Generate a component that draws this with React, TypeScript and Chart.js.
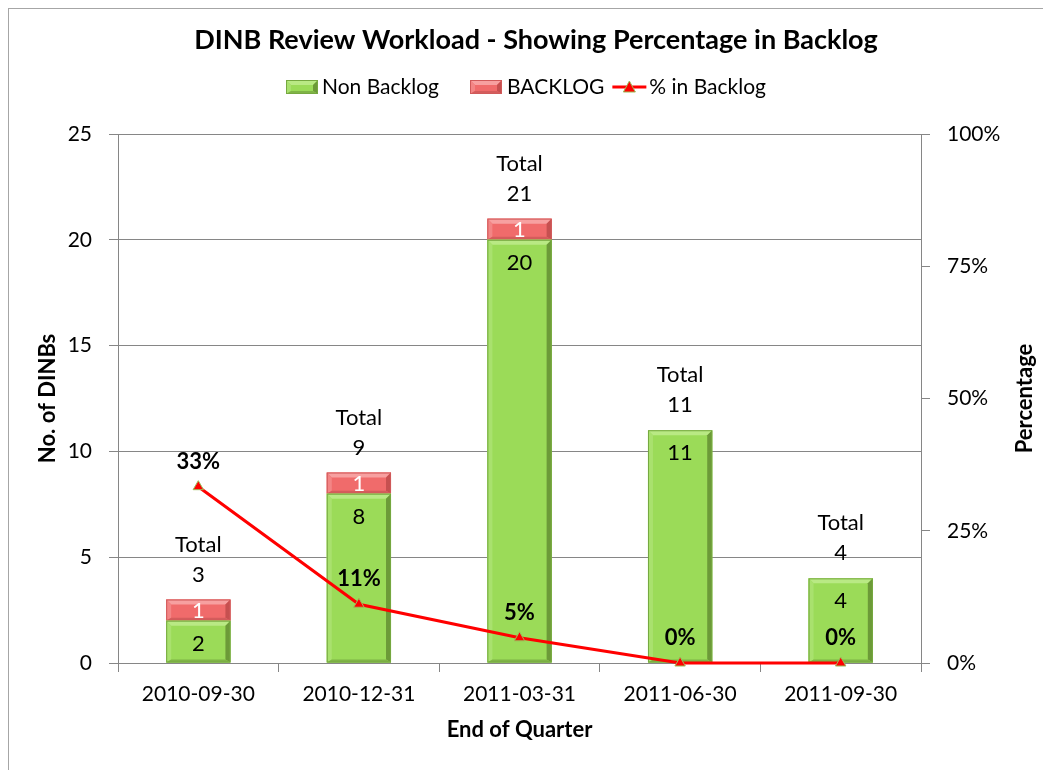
import React, { useEffect, useRef } from 'react';
import { Chart, registerables } from 'chart.js';

Chart.register(...registerables);

const categories = ['2010-09-30', '2010-12-31', '2011-03-31', '2011-06-30', '2011-09-30'];
const nonBacklog = [2, 8, 20, 11, 4];
const backlog = [1, 1, 1, 0, 0];
const totals = [3, 9, 21, 11, 4];
const pctBacklog = [33.33, 11.11, 4.76, 0, 0];
const pctLabels = ['33%', '11%', '5%', '0%', '0%'];
const seriesNames = ['Non Backlog', 'BACKLOG', '% in Backlog'];
const titleText = 'DINB Review Workload - Showing Percentage in Backlog';
const xTitle = 'End of Quarter';
const yTitle = 'No. of DINBs';
const y1Title = 'Percentage';

const FONT = 'Lato';
const AXIS = '#868686';

const GREEN = { base: '#9bdb58', light: '#b9e984', lightSide: '#a9e16e', dark: '#6c9a38', darker: '#7fb446', edge: '#76a840' };
const RED = { base: '#f06b6b', light: '#f7a0a0', lightSide: '#f38585', dark: '#c65050', darker: '#d45c5c', edge: '#d05a5a' };

function drawBevelRect(ctx: CanvasRenderingContext2D, L: number, T: number, R: number, B: number, c: any) {
  const h = B - T;
  if (h < 1) return;
  const b = Math.min(5, h / 2);
  const bb = Math.min(3, h / 2);
  ctx.save();
  ctx.fillStyle = c.base;
  ctx.fillRect(L, T, R - L, h);
  const poly = (pts: number[][], col: string) => {
    ctx.beginPath();
    ctx.moveTo(pts[0][0], pts[0][1]);
    for (let i = 1; i < pts.length; i++) ctx.lineTo(pts[i][0], pts[i][1]);
    ctx.closePath();
    ctx.fillStyle = col;
    ctx.fill();
  };
  poly([[L, T], [R, T], [R - b, T + b], [L + b, T + b]], c.light);
  poly([[L, T], [L + b, T + b], [L + b, B - bb], [L, B]], c.lightSide);
  poly([[R, T], [R, B], [R - b, B - bb], [R - b, T + b]], c.dark);
  poly([[L, B], [R, B], [R - b, B - bb], [L + b, B - bb]], c.darker);
  ctx.strokeStyle = c.edge;
  ctx.lineWidth = 1;
  ctx.strokeRect(L + 0.5, T + 0.5, R - L - 1, h - 1);
  ctx.restore();
}

const decorPlugin = {
  id: 'decor',
  afterDatasetDraw(chart: any, args: any) {
    const meta = args.meta;
    if (meta.type !== 'bar') return;
    const ctx = chart.ctx;
    const col = args.index === 1 ? GREEN : RED;
    meta.data.forEach((el: any) => {
      const w = el.width;
      const L = el.x - w / 2;
      const R = el.x + w / 2;
      const T = Math.min(el.y, el.base);
      const B = Math.max(el.y, el.base);
      drawBevelRect(ctx, L, T, R, B, col);
    });
  },
  afterDraw(chart: any) {
    const ctx = chart.ctx;
    const area = chart.chartArea;
    ctx.save();
    ctx.fillStyle = '#000';
    ctx.textAlign = 'center';
    ctx.textBaseline = 'middle';

    // title
    ctx.font = `bold 27px ${FONT}`;
    ctx.fillText(titleText, 527, 31);

    // legend
    ctx.font = `21px ${FONT}`;
    ctx.textAlign = 'left';
    const ly = 78;
    drawBevelRect(ctx, 277, ly - 7, 309, ly + 7, GREEN);
    ctx.fillStyle = '#000';
    ctx.fillText(seriesNames[0], 313, ly);
    drawBevelRect(ctx, 461, ly - 7, 493, ly + 7, RED);
    ctx.fillStyle = '#000';
    ctx.fillText(seriesNames[1], 498, ly);
    const x0 = Math.max(599, 498 + ctx.measureText(seriesNames[1]).width + 8);
    ctx.strokeStyle = '#ff0000';
    ctx.lineWidth = 3;
    ctx.beginPath();
    ctx.moveTo(x0, ly);
    ctx.lineTo(x0 + 34, ly);
    ctx.stroke();
    ctx.beginPath();
    ctx.moveTo(x0 + 17, ly - 6);
    ctx.lineTo(x0 + 23, ly + 5);
    ctx.lineTo(x0 + 11, ly + 5);
    ctx.closePath();
    ctx.fillStyle = '#ff0000';
    ctx.fill();
    ctx.strokeStyle = '#9bbb59';
    ctx.lineWidth = 1;
    ctx.stroke();
    ctx.fillStyle = '#000';
    ctx.fillText(seriesNames[2], x0 + 37, ly);

    // axis titles
    ctx.textAlign = 'center';
    ctx.font = `bold 22px ${FONT}`;
    ctx.fillText(xTitle, (area.left + area.right) / 2, 721);
    const cy = (area.top + area.bottom) / 2;
    ctx.save();
    ctx.translate(39, cy);
    ctx.rotate(-Math.PI / 2);
    ctx.fillText(yTitle, 0, 0);
    ctx.restore();
    ctx.save();
    ctx.translate(1016, cy);
    ctx.rotate(-Math.PI / 2);
    ctx.fillText(y1Title, 0, 0);
    ctx.restore();

    // data labels
    const gMeta = chart.getDatasetMeta(1);
    const rMeta = chart.getDatasetMeta(2);
    const lMeta = chart.getDatasetMeta(0);
    ctx.font = `22px ${FONT}`;
    categories.forEach((_, i) => {
      const g = gMeta.data[i];
      const r = rMeta.data[i];
      ctx.fillStyle = '#000';
      ctx.fillText(String(nonBacklog[i]), g.x, g.y + 23);
      let top = g.y;
      if (backlog[i] > 0) {
        ctx.fillStyle = '#fff';
        ctx.fillText(String(backlog[i]), r.x, (r.y + r.base) / 2 + 1);
        top = r.y;
      }
      ctx.fillStyle = '#000';
      ctx.fillText('Total', g.x, top - 55);
      ctx.fillText(String(totals[i]), g.x, top - 25);
    });
    ctx.font = `bold 22px ${FONT}`;
    ctx.fillStyle = '#000';
    lMeta.data.forEach((p: any, i: number) => {
      ctx.fillText(pctLabels[i], p.x, p.y - 25);
    });
    ctx.restore();
  },
};

export default function App() {
  const ref = useRef<HTMLCanvasElement>(null);
  useEffect(() => {
    if (!ref.current) return;
    const tickFont = { family: FONT, size: 21 };
    const chart = new Chart(ref.current, {
      type: 'bar',
      data: {
        labels: categories,
        datasets: [
          {
            type: 'line',
            label: seriesNames[2],
            data: pctBacklog,
            yAxisID: 'y1',
            borderColor: '#ff0000',
            backgroundColor: '#ff0000',
            borderWidth: 3,
            tension: 0,
            clip: false,
            pointStyle: 'triangle',
            pointRadius: 6,
            pointBackgroundColor: '#ff0000',
            pointBorderColor: '#9bbb59',
            pointBorderWidth: 1,
            order: 0,
          } as any,
          {
            type: 'bar',
            label: seriesNames[0],
            data: nonBacklog,
            yAxisID: 'y',
            stack: 's',
            backgroundColor: GREEN.base,
            barPercentage: 0.4,
            categoryPercentage: 1,
            order: 1,
          },
          {
            type: 'bar',
            label: seriesNames[1],
            data: backlog,
            yAxisID: 'y',
            stack: 's',
            backgroundColor: RED.base,
            barPercentage: 0.4,
            categoryPercentage: 1,
            order: 2,
          },
        ],
      },
      options: {
        responsive: false,
        animation: false,
        devicePixelRatio: 1,
        layout: { padding: { top: 125, left: 0, right: 0, bottom: 0 } },
        plugins: { legend: { display: false }, tooltip: { enabled: false }, title: { display: false } },
        scales: {
          x: {
            stacked: true,
            grid: { drawOnChartArea: false, drawTicks: true, tickLength: 9, color: AXIS, offset: true },
            border: { color: AXIS },
            ticks: { font: tickFont, color: '#000', padding: 10, maxRotation: 0 },
            afterFit: (s: any) => { s.height = 107; },
          },
          y: {
            stacked: true,
            min: 0,
            max: 25,
            ticks: { stepSize: 5, font: tickFont, color: '#000', padding: 17 },
            grid: { color: AXIS, tickLength: 9 },
            border: { color: AXIS },
            afterFit: (s: any) => { s.width = 109; },
          },
          y1: {
            position: 'right',
            min: 0,
            max: 100,
            ticks: { stepSize: 25, font: tickFont, color: '#000', padding: 17, callback: (v: any) => v + '%' },
            grid: { drawOnChartArea: false, tickLength: 9, color: AXIS },
            border: { color: AXIS },
            afterFit: (s: any) => { s.width = 130; },
          },
        },
      } as any,
      plugins: [decorPlugin],
    });
    return () => chart.destroy();
  }, []);
  return (
    <div
      style={{
        width: 1043,
        height: 762,
        boxSizing: 'border-box',
        borderLeft: '1px solid #a6a6a6',
        borderTop: '1px solid #a6a6a6',
        background: '#fff',
        overflow: 'hidden',
      }}
    >
      <canvas ref={ref} width={1042} height={761} style={{ display: 'block' }} />
    </div>
  );
}
